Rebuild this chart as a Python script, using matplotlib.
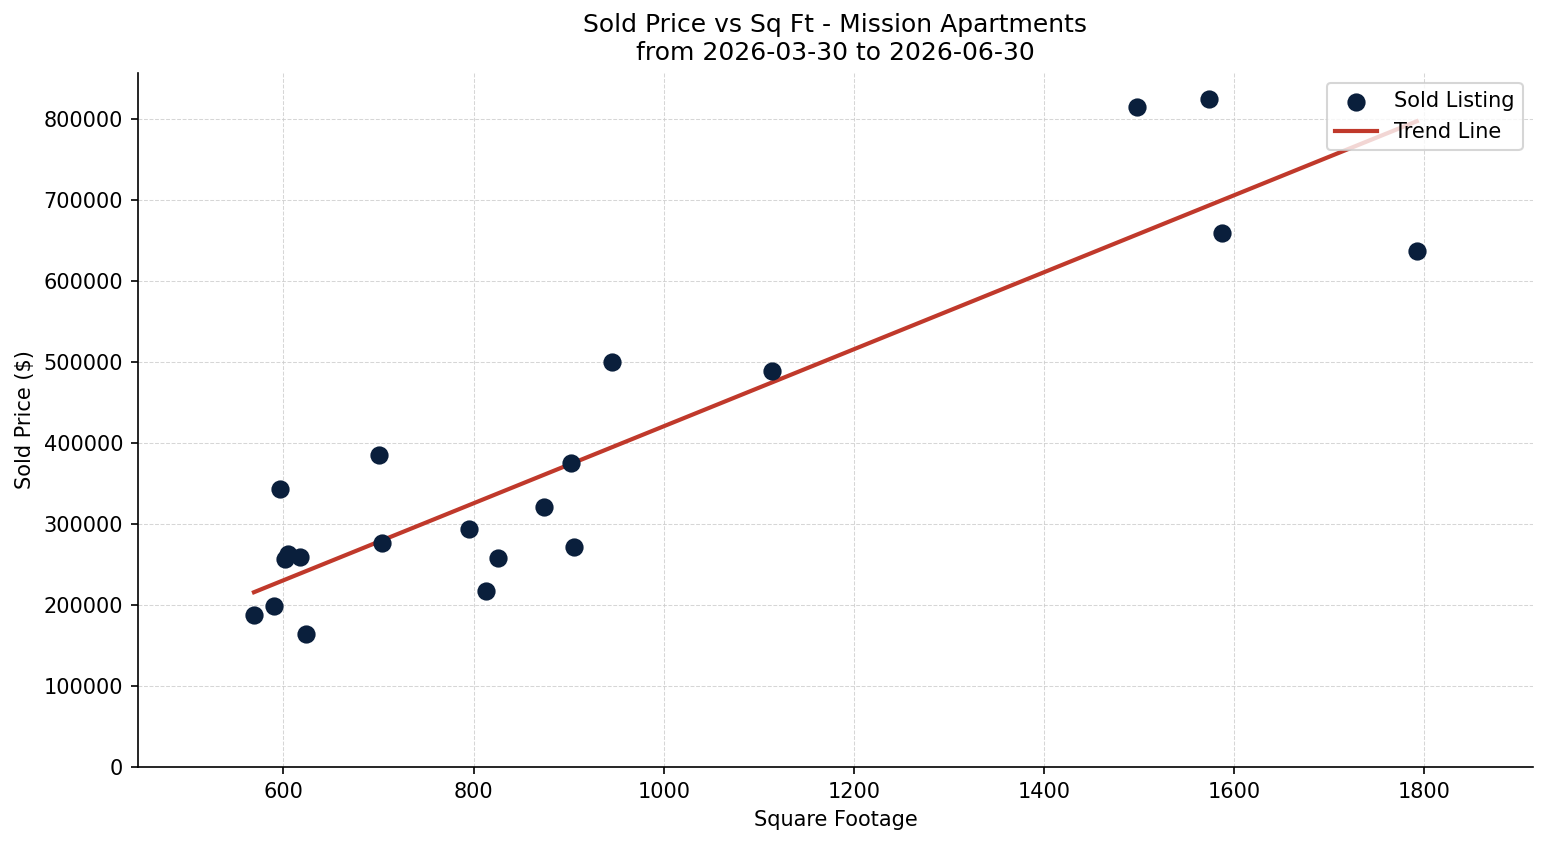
import numpy as np
import matplotlib.pyplot as plt

# sold listings: square footage vs sold price
sqft = [569, 590, 596, 602, 605, 617, 624, 701, 704, 795, 813, 826,
        874, 902, 906, 946, 1114, 1498, 1573, 1587, 1792]
price = [188000, 199000, 343000, 257000, 263000, 259000, 165000, 385000,
         277000, 294000, 217000, 258000, 321000, 375000, 272000, 500000,
         489000, 814000, 824000, 659000, 637000]

title = "Sold Price vs Sq Ft - Mission Apartments\nfrom 2026-03-30 to 2026-06-30"

x = np.array(sqft)
y = np.array(price)

fig, ax = plt.subplots(figsize=(1547 / 150, 845 / 150), dpi=150)
fig.subplots_adjust(left=0.089, right=0.991, top=0.914, bottom=0.092)

ax.scatter(x, y, s=60, color="#0a1f3c", label="Sold Listing", zorder=3)

# linear trend
m, b = np.polyfit(x, y, 1)
xs = np.array([x.min(), x.max()])
ax.plot(xs, m * xs + b, color="#c0392b", linewidth=2, label="Trend Line", zorder=2)

rng = x.max() - x.min()
ax.set_xlim(x.min() - 0.1 * rng, x.max() + 0.1 * rng)
ax.set_ylim(bottom=0)

ax.set_title(title, fontsize=12)
ax.set_xlabel("Square Footage")
ax.set_ylabel("Sold Price ($)")
ax.grid(True, linestyle="--", color="#cccccc", linewidth=0.5, alpha=0.8)
ax.set_axisbelow(True)
ax.spines["top"].set_visible(False)
ax.spines["right"].set_visible(False)
ax.legend(loc="upper right")

fig.savefig("out.png")
